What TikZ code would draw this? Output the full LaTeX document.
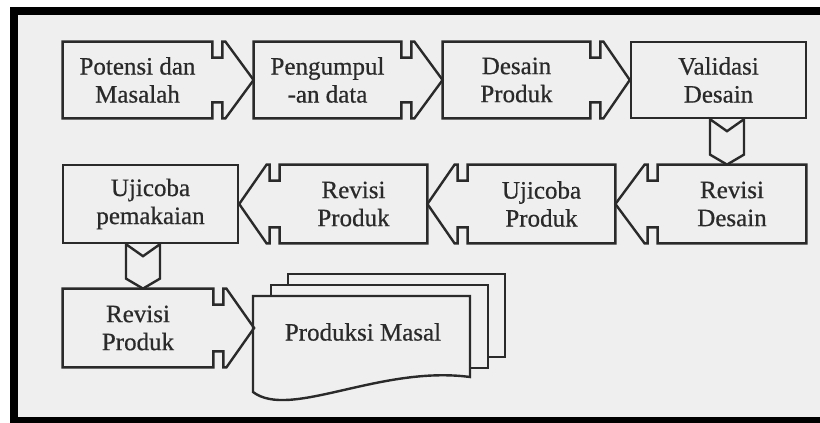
\documentclass[tikz,border=0pt]{standalone}
\usepackage{fontspec}
\setmainfont{Liberation Serif}
\newfontfamily\huruf[FakeBold=0.6]{Liberation Serif}
\usetikzlibrary{calc}

\definecolor{latar}{HTML}{EFEFEF}
\definecolor{garis}{HTML}{2A2A2A}

% kotak + panah ke kanan : #1 -> #2
\newcommand{\panahkanan}[2]{%
  \draw[tepi] (#1.north west) -- (#1.north east) -- ++(0,-8pt) -- ++(5pt,0) -- ++(0,8pt) -- ++(1.5pt,0)
    -- (#2.west |- #1.east)
    -- ($(#1.south east)+(6.5pt,0)$) -- ++(-1.5pt,0) -- ++(0,8pt) -- ++(-5pt,0) -- ++(0,-8pt)
    -- (#1.south west) -- cycle;}
% kotak + panah ke kiri : #1 -> #2
\newcommand{\panahkiri}[2]{%
  \draw[tepi] (#1.north east) -- (#1.north west) -- ++(0,-8pt) -- ++(-5pt,0) -- ++(0,8pt) -- ++(-1.5pt,0)
    -- (#2.east |- #1.west)
    -- ($(#1.south west)+(-6.5pt,0)$) -- ++(1.5pt,0) -- ++(0,8pt) -- ++(5pt,0) -- ++(0,-8pt)
    -- (#1.south east) -- cycle;}
% panah ke bawah : #1 -> #2 pada garis #3
\newcommand{\panahbawah}[3]{%
  \coordinate (atas) at (#1.south -| #3);
  \coordinate (bawah) at (#2.north -| #3);
  \draw[tepi] ($(atas)+(-8.5pt,0)$) -- ($(atas)+(0,-6pt)$) -- ($(atas)+(8.5pt,0)$)
    -- ($(bawah)+(8.5pt,5pt)$) -- (bawah) -- ($(bawah)+(-8.5pt,5pt)$) -- cycle;}

\begin{document}
\begin{tikzpicture}[x=0.5pt,y=-0.5pt,
    tepi/.style={garis, line width=1.2pt, line join=miter},
    tahap/.style={rectangle, inner sep=0pt, align=center, text=garis,
      font=\huruf\fontsize{12.5}{14}\selectfont}]
  \useasboundingbox (0,0) rectangle (820,423);
  % Bingkai
  \fill[white] (0,0) rectangle (820,423);
  \fill[black] (10,7) rectangle (820,423);
  \fill[latar] (18,15) rectangle (820,417);

  % Baris 1
  \node[tahap, minimum width=74.5pt, minimum height=38pt] (potensi) at (137.5,80) {Potensi dan\\Masalah};
  \node[tahap, minimum width=73.5pt, minimum height=38pt] (kumpul) at (327.5,80) {Pengumpul\\-an data};
  \node[tahap, minimum width=73.5pt, minimum height=38pt] (desain) at (516.5,80) {Desain\\Produk};
  \node[tahap, draw=garis, line width=1.2pt, minimum width=87.5pt, minimum height=38pt] (validasi) at (718.5,80) {Validasi\\Desain};
  \panahkanan{potensi}{kumpul}
  \panahkanan{kumpul}{desain}
  \panahkanan{desain}{validasi}

  % Baris 2
  \node[tahap, minimum width=74pt, minimum height=39pt] (revdesain) at (732,204) {Revisi\\Desain};
  \node[tahap, minimum width=73.5pt, minimum height=39pt] (ujiproduk) at (541.5,204) {Ujicoba\\Produk};
  \node[tahap, minimum width=73.5pt, minimum height=39pt] (revproduk) at (353.5,204) {Revisi\\Produk};
  \node[tahap, draw=garis, line width=1.2pt, minimum width=87.5pt, minimum height=39pt] (ujipakai) at (150.5,204) {Ujicoba\\pemakaian};
  \panahkiri{revdesain}{ujiproduk}
  \panahkiri{ujiproduk}{revproduk}
  \panahkiri{revproduk}{ujipakai}

  % Baris 3
  \node[tahap, minimum width=75pt, minimum height=39pt] (revakhir) at (138,328) {Revisi\\Produk};
  % Dokumen bertumpuk
  \draw[tepi, fill=latar] (288,274) rectangle (505,357);
  \draw[tepi, fill=latar] (271,285) rectangle (488,368);
  \draw[tepi, fill=latar] (253,296) -- (470,296) -- (470,377)
    .. controls (380,365) and (290,420) .. (253,392) -- cycle;
  \node[tahap, minimum width=108.5pt, minimum height=36pt] (masal) at (363,332) {Produksi Masal};
  \panahkanan{revakhir}{masal}

  % Panah turun
  \coordinate (garis1) at (727,0);
  \coordinate (garis2) at (143,0);
  \panahbawah{validasi}{revdesain}{garis1}
  \panahbawah{ujipakai}{revakhir}{garis2}
\end{tikzpicture}
\end{document}
